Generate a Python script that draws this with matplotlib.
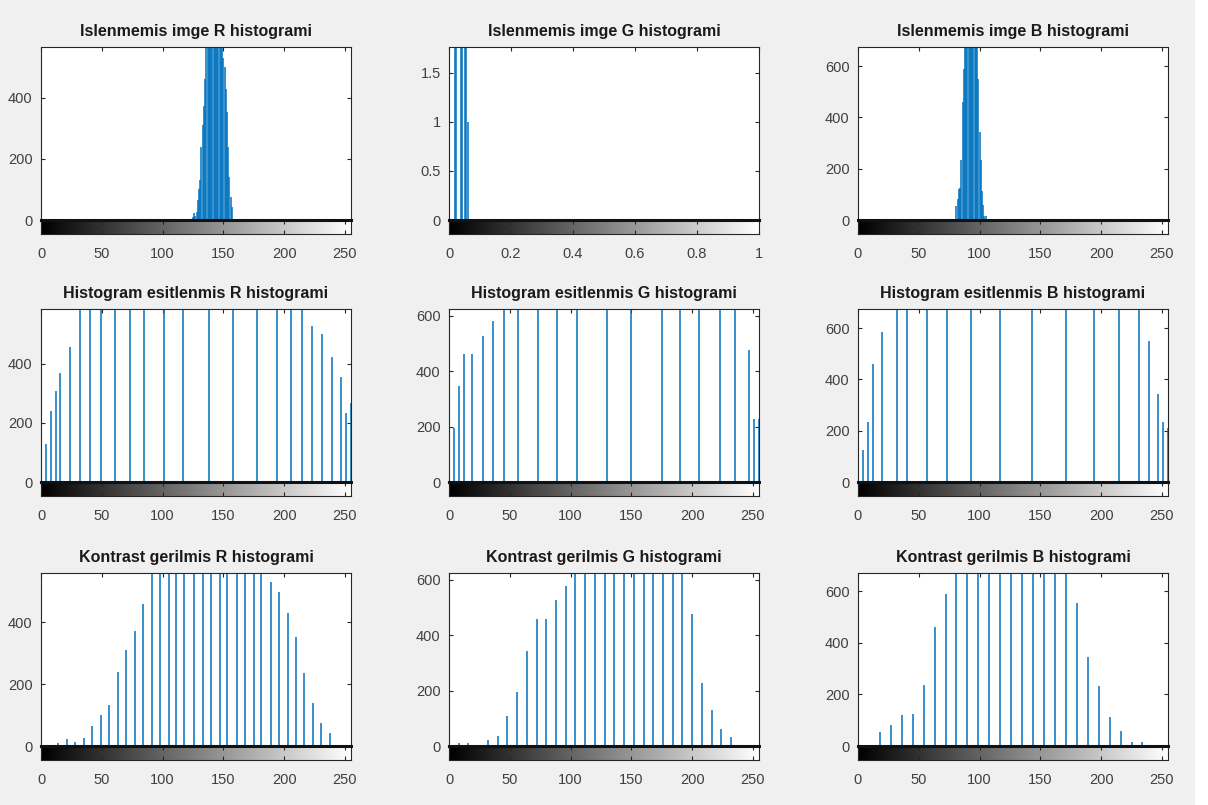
import numpy as np
import matplotlib
matplotlib.use('Agg')
import matplotlib.pyplot as plt
from matplotlib.ticker import FuncFormatter
from matplotlib.patches import Rectangle

plt.rcParams['font.family'] = ['Liberation Sans', 'DejaVu Sans']

# --- data (counts per grey level) ---
# row 1: unprocessed image
r_orig_x = list(range(125, 158))
r_orig_y = [9, 22, 13, 25, 65, 101, 132, 240, 311, 372, 460,
            610, 680, 760, 820, 900, 950, 980, 990, 960, 900, 840, 760, 690, 610,
            530, 500, 429, 354, 237, 139, 74, 43]
g_orig_x = [0.0196, 0.0235, 0.0392, 0.0431, 0.0510, 0.0549, 0.0627]
g_orig_y = [2, 2, 3, 3, 2, 2, 1]
b_orig_x = list(range(81, 106))
b_orig_y = [55, 81, 120, 125, 235, 462, 588,
            720, 800, 900, 960, 1000, 1010, 980, 930, 850, 760, 690,
            552, 343, 233, 114, 57, 15, 15]

# row 2: histogram equalised
r_eq_x = [0, 4, 8, 12, 16, 24, 32, 40, 49, 61, 73, 85, 101, 117, 138, 158,
          178, 194, 206, 215, 223, 231, 239, 247, 251, 255]
r_eq_y = [256, 128, 240, 307, 369, 457,
          592, 1170, 1210, 1780, 1700, 1490, 1950, 1880, 2300, 1930, 2180, 1850, 1190, 630,
          527, 501, 425, 355, 234, 268]
g_eq_x = [0, 4, 8, 12, 19, 28, 36, 45, 57, 73, 89, 105, 130, 150, 175, 190,
          206, 223, 235, 247, 251, 255]
g_eq_y = [196, 194, 348, 464, 464, 527, 582,
          650, 1300, 1400, 1700, 1800, 2600, 1850, 2500, 1700, 1750, 1900, 1250,
          478, 227, 226]
b_eq_x = [0, 4, 8, 12, 20, 32, 40, 57, 73, 93, 117, 143, 171, 194, 215, 231,
          239, 247, 251, 255]
b_eq_y = [277, 123, 235, 462, 587,
          720, 800, 1860, 1960, 2010, 1910, 1620, 1450, 1600, 700, 1450,
          551, 342, 235, 209]

# row 3: contrast stretched
r_cs_x = [14, 21, 28, 35, 42, 49, 56, 63, 70, 77, 84, 91, 98, 105, 111, 118, 126,
          133, 140, 147, 153, 161, 168, 175, 181, 189, 196, 203, 210, 216, 224, 230, 238]
r_cs_y = r_orig_y
g_cs_x = [8, 16, 32, 40, 48, 56, 64, 72, 80, 88, 96, 104, 112, 120, 128, 136, 144,
          152, 160, 168, 176, 184, 192, 200, 208, 216, 224, 232]
g_cs_y = [12, 12, 21, 36, 107, 195, 344, 460, 460, 528, 579,
          640, 700, 780, 850, 900, 920, 910, 870, 800, 730, 660, 620,
          478, 227, 131, 60, 31]
b_cs_x = [18, 27, 36, 45, 54, 63, 72, 81, 90, 99, 108, 117, 126, 135, 144, 153,
          162, 171, 180, 189, 198, 207, 216, 225, 234]
b_cs_y = b_orig_y

titles = [['Islenmemis imge R histogrami', 'Islenmemis imge G histogrami', 'Islenmemis imge B histogrami'],
          ['Histogram esitlenmis R histogrami', 'Histogram esitlenmis G histogrami', 'Histogram esitlenmis B histogrami'],
          ['Kontrast gerilmis R histogrami', 'Kontrast gerilmis G histogrami', 'Kontrast gerilmis B histogrami']]
xs = [[r_orig_x, g_orig_x, b_orig_x], [r_eq_x, g_eq_x, b_eq_x], [r_cs_x, g_cs_x, b_cs_x]]
ys = [[r_orig_y, g_orig_y, b_orig_y], [r_eq_y, g_eq_y, b_eq_y], [r_cs_y, g_cs_y, b_cs_y]]
ytop = [[565, 1.76, 675], [586, 625, 675], [560, 625, 670]]
yticks = [[[0, 200, 400], [0, 0.5, 1, 1.5], [0, 200, 400, 600]],
          [[0, 200, 400], [0, 200, 400, 600], [0, 200, 400, 600]],
          [[0, 200, 400], [0, 200, 400, 600], [0, 200, 400, 600]]]

W, H = 1208, 805
fig = plt.figure(figsize=(W / 100, H / 100), dpi=100, facecolor='#f0f0f0')
fig.patches.append(Rectangle((1195 / W, 0), 13 / W, 1, transform=fig.transFigure,
                             facecolor='white', edgecolor='none', zorder=-1))

col_x = [41, 449, 858]
row_top = [47, 309, 573]
aw, ah, ch = 310, 173, 14
blue = '#0072BD'
dark = '#262626'
fmt = FuncFormatter(lambda v, p: '%g' % v)
gradient = np.linspace(0, 1, 256).reshape(1, -1)

for i in range(3):
    for j in range(3):
        x0, t0 = col_x[j], row_top[i]
        ax = fig.add_axes([x0 / W, 1 - (t0 + ah) / H, aw / W, ah / H])
        xmax = 1 if (i == 0 and j == 1) else 255
        ax.vlines(xs[i][j], 0, ys[i][j], color=blue, lw=1.1)
        ax.set_xlim(0, xmax)
        ax.set_ylim(0, ytop[i][j])
        ax.set_yticks(yticks[i][j])
        ax.yaxis.set_major_formatter(fmt)
        ax.set_xticks(np.arange(0, xmax + 0.01, xmax / 5 if xmax == 1 else 50))
        ax.tick_params(direction='in', top=True, right=True, bottom=False,
                       labelbottom=False, length=3, width=0.8, colors=dark,
                       labelsize=10.5, labelcolor='#404040', pad=6)
        for s in ax.spines.values():
            s.set_color(dark)
            s.set_linewidth(0.8)
        ax.set_title(titles[i][j], fontsize=11.5, fontweight='bold', color='#1a1a1a', pad=8)

        cax = fig.add_axes([x0 / W, 1 - (t0 + ah + ch) / H, aw / W, ch / H])
        cax.imshow(gradient, cmap='gray', aspect='auto', extent=[0, xmax, 0, 1])
        cax.set_xlim(0, xmax)
        cax.set_xticks(ax.get_xticks())
        cax.xaxis.set_major_formatter(fmt)
        cax.set_yticks([])
        cax.tick_params(direction='in', top=True, length=3, width=0.8, colors=dark,
                        labelsize=10.5, labelcolor='#404040', pad=9)
        for s in cax.spines.values():
            s.set_color(dark)
            s.set_linewidth(0.8)
        cax.spines['top'].set_linewidth(2.2)
        cax.spines['top'].set_color('#111111')

fig.savefig('out.png', dpi=100, facecolor=fig.get_facecolor())
